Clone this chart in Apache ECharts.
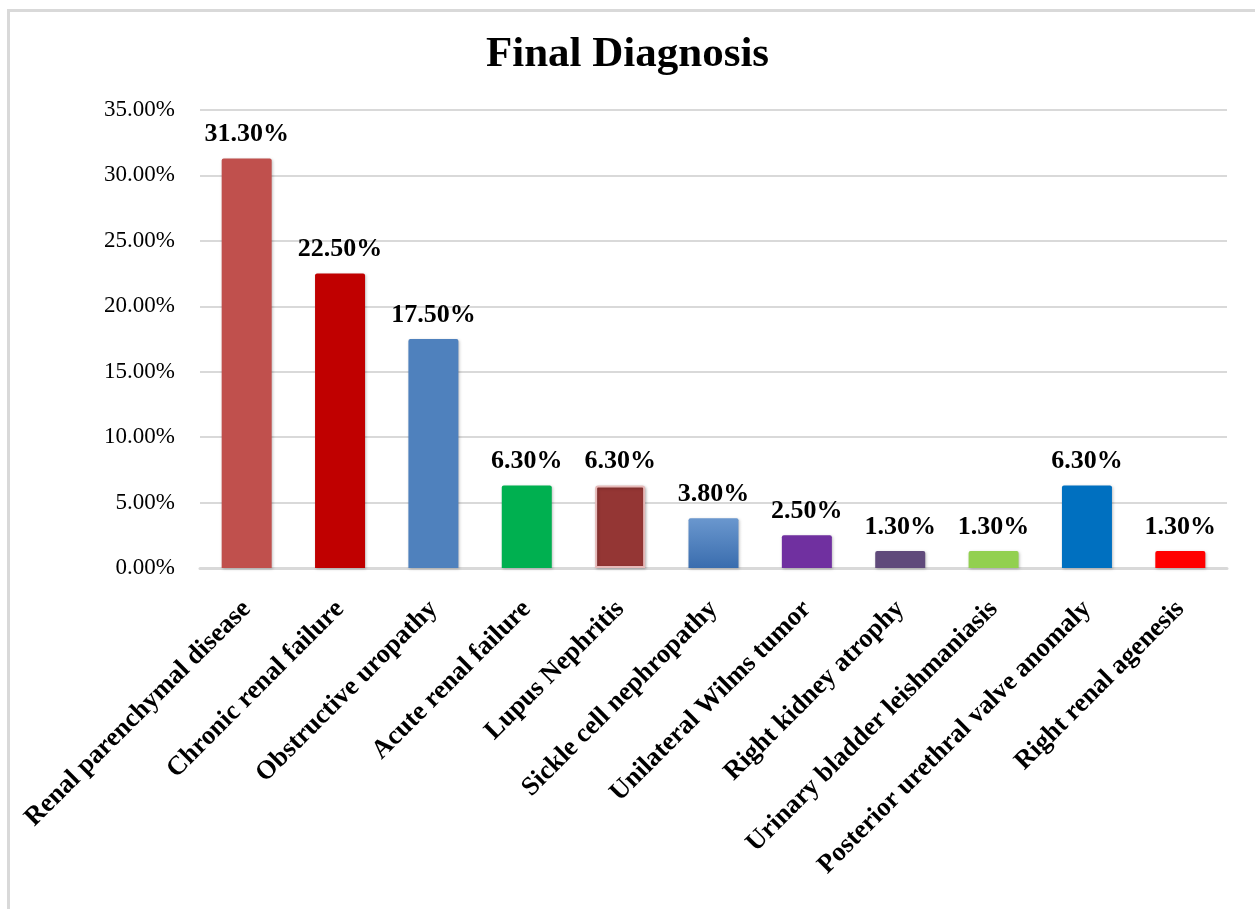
<!DOCTYPE html>
<html>
<head>
<meta charset="utf-8">
<title>Final Diagnosis</title>
<script src="https://cdn.jsdelivr.net/npm/echarts@6/dist/echarts.min.js"></script>
<style>
  html, body { margin: 0; padding: 0; background: #ffffff; }
  #chart { width: 1255px; height: 909px; }
</style>
</head>
<body>
<div id="chart"></div>
<script>
// Diagnosis categories and their share of cases (%)
const categories = [
  'Renal parenchymal disease',
  'Chronic renal failure',
  'Obstructive uropathy',
  'Acute renal failure',
  'Lupus Nephritis',
  'Sickle cell nephropathy',
  'Unilateral Wilms tumor',
  'Right kidney atrophy',
  'Urinary bladder leishmaniasis',
  'Posterior urethral valve anomaly',
  'Right renal agenesis'
];
const percentages = [31.3, 22.5, 17.5, 6.3, 6.3, 3.8, 2.5, 1.3, 1.3, 6.3, 1.3];
const barColors = [
  '#C0504D', '#C00000', '#4F81BD', '#00B050', '#943634',
  '#4F81BD', '#7030A0', '#604A7B', '#92D050', '#0070C0', '#FF0000'
];
const yTicks = { min: 0, max: 35, interval: 5 };

const serif = '"Liberation Serif", "Times New Roman", serif';

const chart = echarts.init(document.getElementById('chart'));

function barStyle(i) {
  const style = {
    color: barColors[i],
    borderRadius: [2, 2, 0, 0],
    shadowColor: 'rgba(0,0,0,0.25)',
    shadowBlur: 3,
    shadowOffsetX: 1,
    shadowOffsetY: 1
  };
  if (i === 4) {
    style.borderColor = '#E6B9B8';
    style.borderWidth = 2;
  }
  if (i === 5) {
    style.color = new echarts.graphic.LinearGradient(0, 0, 0, 1, [
      { offset: 0, color: '#6A97CE' },
      { offset: 1, color: '#3A6DAE' }
    ]);
  }
  return style;
}

chart.setOption({
  backgroundColor: '#ffffff',
  animation: false,
  title: {
    text: 'Final Diagnosis',
    left: 'center',
    top: 28,
    textStyle: { fontFamily: serif, fontSize: 43, fontWeight: 'bold', color: '#000' }
  },
  graphic: [{
    type: 'rect',
    left: 6, top: 8,
    shape: { width: 1270, height: 920 },
    style: { fill: 'none', stroke: '#D9D9D9', lineWidth: 3 },
    silent: true
  }],
  grid: { left: 200, right: 28, top: 110, bottom: 341 },
  xAxis: {
    type: 'category',
    data: categories,
    axisLine: { lineStyle: { color: '#D9D9D9', width: 3 } },
    axisTick: { show: false },
    axisLabel: {
      rotate: 45,
      interval: 0,
      margin: 37,
      fontFamily: serif,
      fontSize: 26.5,
      fontWeight: 'bold',
      color: '#000'
    }
  },
  yAxis: {
    type: 'value',
    min: yTicks.min,
    max: yTicks.max,
    interval: yTicks.interval,
    axisLine: { show: false },
    axisTick: { show: false },
    splitLine: { lineStyle: { color: '#D9D9D9', width: 2 } },
    axisLabel: {
      margin: 25,
      fontFamily: serif,
      fontSize: 23,
      color: '#000',
      formatter: v => v.toFixed(2) + '%'
    }
  },
  series: [{
    type: 'bar',
    barWidth: 50,
    data: percentages.map((v, i) => ({ value: v, itemStyle: barStyle(i) })),
    label: {
      show: true,
      position: 'top',
      distance: 11,
      fontFamily: serif,
      fontSize: 26,
      fontWeight: 'bold',
      color: '#000',
      formatter: p => p.value.toFixed(2) + '%'
    }
  }]
});
</script>
</body>
</html>
